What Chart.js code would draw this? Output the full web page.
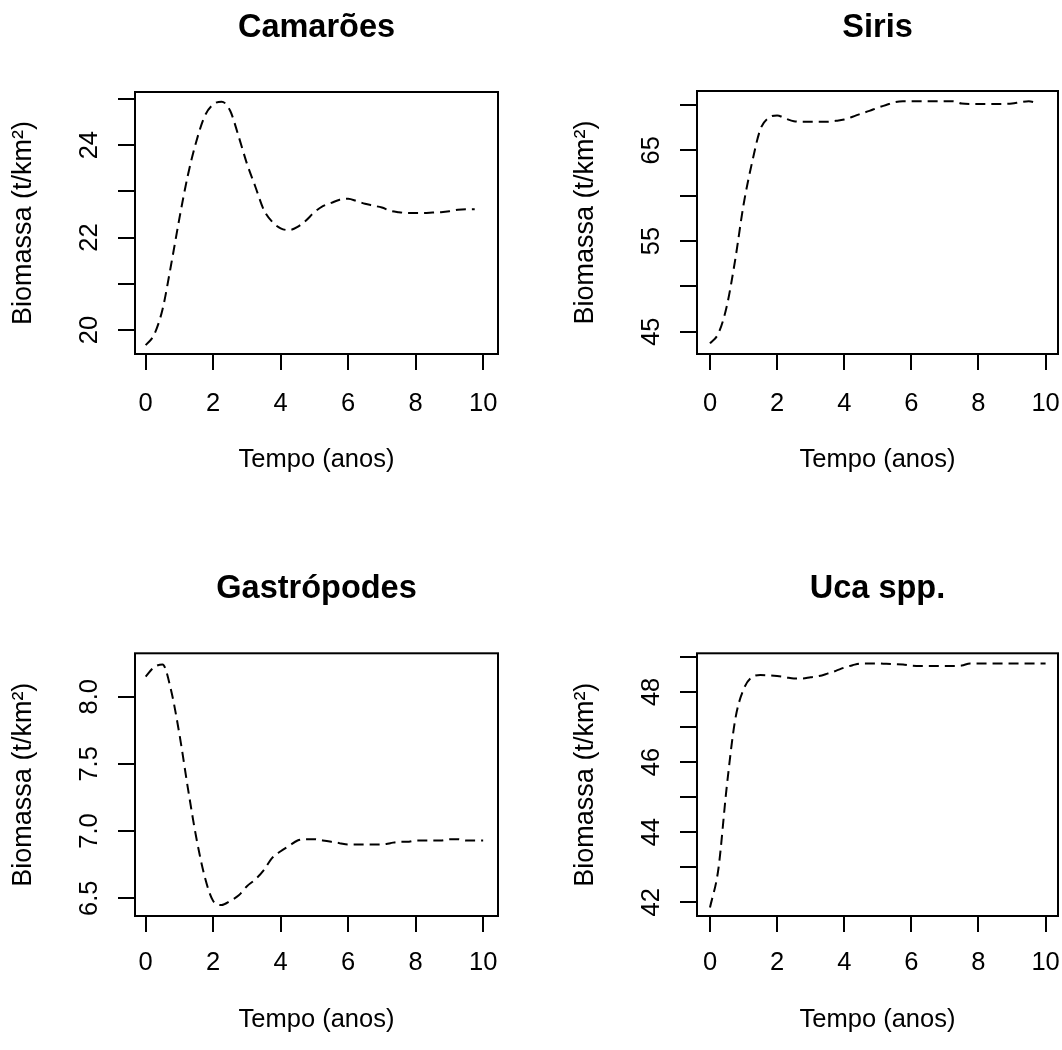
<!DOCTYPE html>
<html><head><meta charset="utf-8">
<script src="https://cdn.jsdelivr.net/npm/chart.js@4.4.1/dist/chart.umd.min.js"></script>
<style>
html,body{margin:0;padding:0;background:#fff;}
#wrap{position:relative;width:1062px;height:1050px;overflow:hidden;background:#fff;}
canvas{position:absolute;display:block;}
</style></head><body>
<div id="wrap">
<canvas id="c1" width="560" height="540" style="left:0;top:0"></canvas>
<canvas id="c2" width="540" height="540" style="left:560px;top:0"></canvas>
<canvas id="c3" width="560" height="510" style="left:0;top:540px"></canvas>
<canvas id="c4" width="540" height="510" style="left:560px;top:540px"></canvas>
</div>
<script>
// ---------- data ----------
const tempo = [0,0.25,0.5,0.75,1,1.25,1.5,1.75,2,2.25,2.5,2.75,3,3.25,3.5,3.75,4,4.25,4.5,4.75,5,5.25,5.5,5.75,6,6.25,6.5,6.75,7,7.25,7.5,7.75,8,8.25,8.5,8.75,9,9.25,9.5,9.75,10];

const camaroes = [19.67,19.9,20.45,21.4,22.42,23.35,24.08,24.63,24.88,24.94,24.75,24.2,23.6,23.1,22.6,22.34,22.2,22.16,22.23,22.37,22.55,22.68,22.75,22.82,22.84,22.79,22.73,22.69,22.65,22.58,22.55,22.53,22.53,22.53,22.54,22.55,22.57,22.6,22.61,22.61,null];
const siris = [43.7,44.8,47.8,52.9,59.0,63.6,67.3,68.6,68.85,68.5,68.2,68.15,68.15,68.15,68.15,68.25,68.4,68.7,69.05,69.35,69.7,70.0,70.3,70.4,70.4,70.4,70.4,70.4,70.4,70.4,70.15,70.1,70.1,70.1,70.1,70.12,70.15,70.3,70.4,70.2,null];
const gastropodes = [8.15,8.22,8.24,8.05,7.72,7.32,6.95,6.66,6.48,6.45,6.48,6.52,6.59,6.64,6.71,6.8,6.85,6.89,6.93,6.94,6.94,6.93,6.92,6.91,6.9,6.9,6.9,6.9,6.9,6.91,6.92,6.92,6.93,6.93,6.93,6.93,6.94,6.94,6.93,6.93,6.93];
const uca = [41.85,42.95,45.3,47.2,48.07,48.42,48.48,48.47,48.45,48.42,48.38,48.38,48.42,48.45,48.52,48.6,48.69,48.76,48.81,48.81,48.81,48.8,48.79,48.78,48.75,48.74,48.74,48.74,48.74,48.74,48.75,48.81,48.81,48.81,48.81,48.81,48.81,48.81,48.81,48.81,48.81];

const titulos = ['Camarões','Siris','Gastrópodes','Uca spp.'];
const xLabel = 'Tempo (anos)';
const yLabel = 'Biomassa (t/km²)';

const xTicks = [0,2,4,6,8,10];
const camTicks = [20,21,22,23,24,25];
const camLabels = ['20','22','24'];
const sirTicks = [45,50,55,60,65,70];
const sirLabels = ['45','55','65'];
const gasTicks = [6.5,7.0,7.5,8.0];
const gasLabels = ['6.5','7.0','7.5','8.0'];
const ucaTicks = [42,43,44,45,46,47,48,49];
const ucaLabels = ['42','44','46','48'];

// ---------- layout ----------
const FONT = "'Liberation Sans', Arial, Helvetica, sans-serif";
const LBL = 25.5, YT = 27, TTL = 32.5;
const panels = [
  {id:'c1', W:560, H:540, box:{l:135,r:498,t:92,b:354}, title:titulos[0], values:camaroes,
   x:[-0.317,10.44], y:[19.48,25.15], yTicks:camTicks, yLab:camLabels, titleY:28, xTitleY:460, xTickGap:34.5},
  {id:'c2', W:540, H:540, box:{l:137,r:498,t:91,b:354}, title:titulos[1], values:siris,
   x:[-0.387,10.37], y:[42.54,71.54], yTicks:sirTicks, yLab:sirLabels, titleY:28, xTitleY:460, xTickGap:34.5},
  {id:'c3', W:560, H:510, box:{l:135,r:498,t:113.3,b:376}, title:titulos[2], values:gastropodes,
   x:[-0.317,10.44], y:[6.368,8.323], yTicks:gasTicks, yLab:gasLabels, titleY:49.5, xTitleY:480, xTickGap:32},
  {id:'c4', W:540, H:510, box:{l:137,r:498,t:113.3,b:376}, title:titulos[3], values:uca,
   x:[-0.387,10.37], y:[41.61,49.1], yTicks:ucaTicks, yLab:ucaLabels, titleY:49.5, xTitleY:480, xTickGap:32}
];

const framePlugin = {
  id:'frame',
  afterDraw(chart){
    const a = chart.chartArea, ctx = chart.ctx;
    ctx.save();
    ctx.strokeStyle = '#000'; ctx.lineWidth = 2;
    ctx.strokeRect(a.left, a.top, a.right - a.left, a.bottom - a.top);
    ctx.restore();
  }
};

function yLabelPlugin(labels){
  return {
    id:'ylab',
    afterDraw(chart){
      const ctx = chart.ctx, ys = chart.scales.y, a = chart.chartArea;
      ctx.save();
      ctx.font = LBL + 'px ' + FONT;
      ctx.fillStyle = '#000';
      ctx.textAlign = 'center';
      ctx.textBaseline = 'alphabetic';
      labels.forEach(t => {
        const py = ys.getPixelForValue(parseFloat(t));
        ctx.save();
        ctx.translate(a.left - 38.5, py);
        ctx.rotate(-Math.PI/2);
        ctx.fillText(t, 0, 0);
        ctx.restore();
      });
      ctx.restore();
    }
  };
}

panels.forEach(p => {
  const lh = TTL * 1.2, llh = LBL * 1.2, ylh = YT * 1.2;
  const tPadTop = p.titleY - lh/2;
  const tPadBottom = p.box.t - tPadTop - lh;
  const pts = tempo.map((t,i) => ({x:t, y:p.values[i]}));
  new Chart(document.getElementById(p.id), {
    type:'line',
    data:{ datasets:[{ data:pts, borderColor:'#000', borderWidth:2, borderDash:[10,6],
      pointRadius:0, pointHoverRadius:0, fill:false, cubicInterpolationMode:'monotone', spanGaps:false }]},
    options:{
      responsive:false, animation:false, events:[],
      layout:{ autoPadding:false, padding:{left:0, top:0, bottom:0, right:p.W - p.box.r} },
      plugins:{
        legend:{display:false}, tooltip:{enabled:false},
        title:{ display:true, text:p.title, fullSize:false, color:'#000',
          font:{family:FONT, size:TTL, weight:'bold', lineHeight:1.2},
          padding:{top:tPadTop, bottom:tPadBottom} }
      },
      scales:{
        x:{
          type:'linear', position:'bottom', min:p.x[0], max:p.x[1],
          afterBuildTicks(s){ s.ticks = xTicks.map(v => ({value:v})); },
          afterFit(s){ s.height = p.H - p.box.b; },
          ticks:{ color:'#000', font:{family:FONT, size:LBL, lineHeight:1.2}, padding:p.xTickGap - 16,
            maxRotation:0, minRotation:0, autoSkip:false, callback:v => String(v) },
          grid:{ display:true, drawOnChartArea:false, drawTicks:true, tickLength:16, tickWidth:2, tickColor:'#000', color:'#000', lineWidth:2 },
          border:{display:false},
          title:{ display:true, text:xLabel, color:'#000', font:{family:FONT, size:LBL, lineHeight:1.2},
            padding:{top:0, bottom:p.H - p.xTitleY - llh/2} }
        },
        y:{
          type:'linear', position:'left', min:p.y[0], max:p.y[1],
          afterBuildTicks(s){ s.ticks = p.yTicks.map(v => ({value:v})); },
          afterFit(s){ s.width = p.box.l; },
          ticks:{ display:false },
          grid:{ display:true, drawOnChartArea:false, drawTicks:true, tickLength:17, tickWidth:2, tickColor:'#000', color:'#000', lineWidth:2 },
          border:{display:false},
          title:{ display:true, text:yLabel, color:'#000', font:{family:FONT, size:YT, lineHeight:1.2},
            padding:{top:p.box.l - 111.5 - ylh/2, bottom:0} }
        }
      }
    },
    plugins:[framePlugin, yLabelPlugin(p.yLab)]
  });
});
</script>
</body></html>
